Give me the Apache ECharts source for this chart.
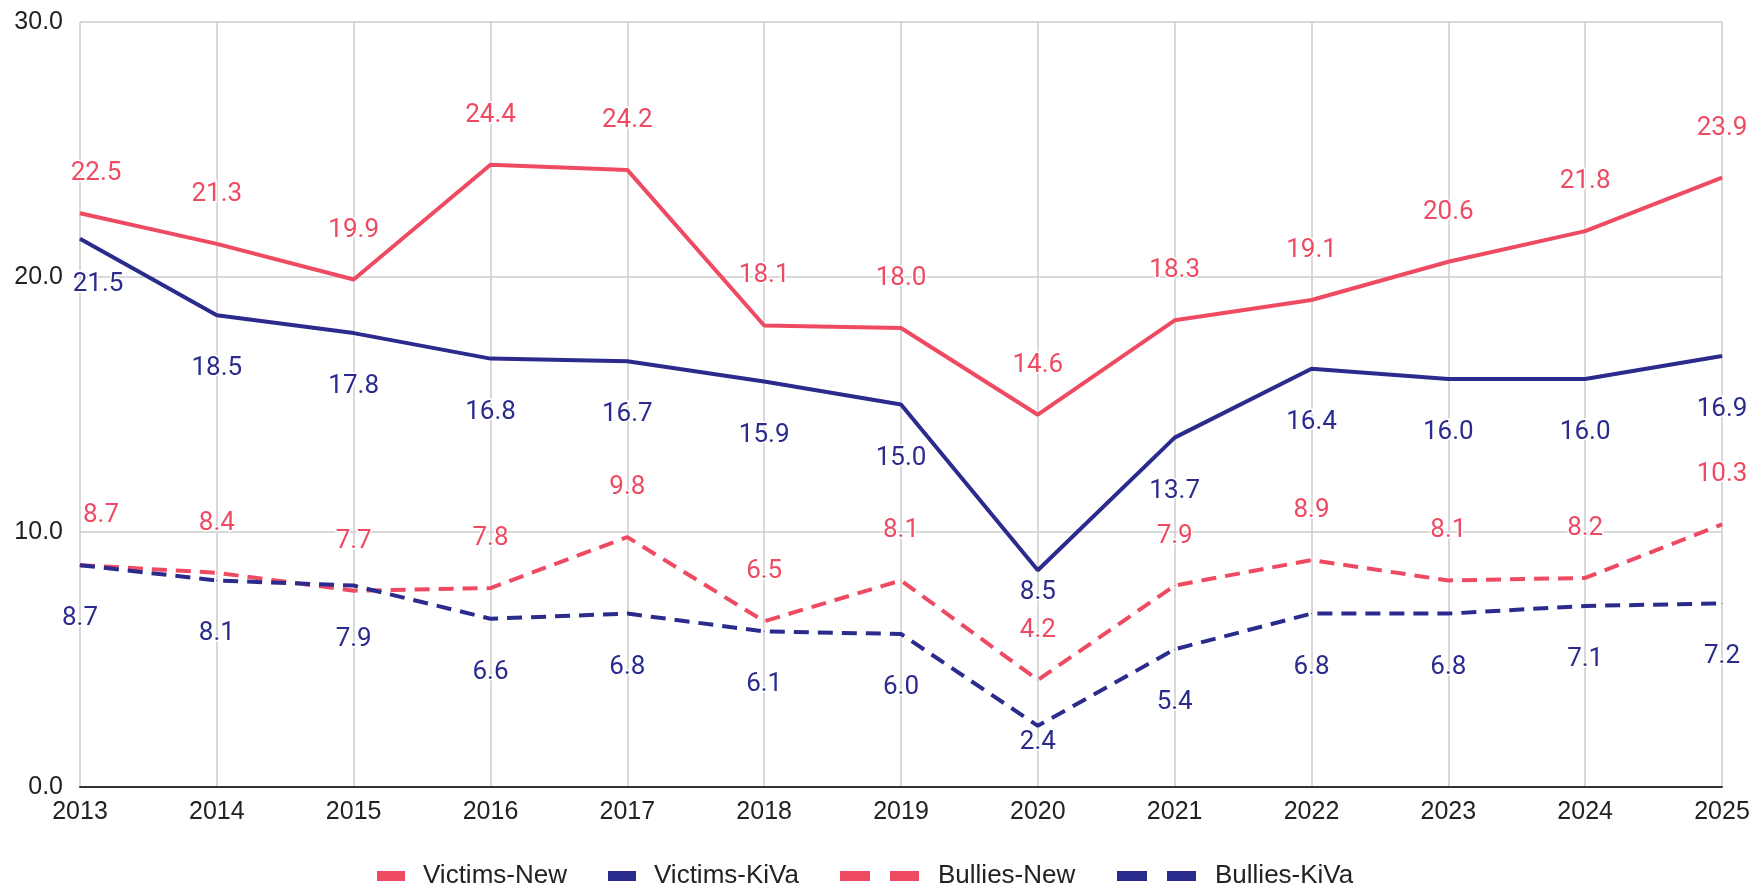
<!DOCTYPE html>
<html>
<head>
<meta charset="utf-8">
<script src="https://cdn.jsdelivr.net/npm/echarts@6/dist/echarts.min.js"></script>
<style>
  html, body { margin: 0; padding: 0; background: #fff; }
  #main { width: 1763px; height: 892px; }
</style>
</head>
<body>
<div id="main"></div>
<script>
// data
var years = ['2013', '2014', '2015', '2016', '2017', '2018', '2019', '2020', '2021', '2022', '2023', '2024', '2025'];
var victimsNew = [22.5, 21.3, 19.9, 24.4, 24.2, 18.1, 18.0, 14.6, 18.3, 19.1, 20.6, 21.8, 23.9];
var victimsKiva = [21.5, 18.5, 17.8, 16.8, 16.7, 15.9, 15.0, 8.5, 13.7, 16.4, 16.0, 16.0, 16.9];
var bulliesNew = [8.7, 8.4, 7.7, 7.8, 9.8, 6.5, 8.1, 4.2, 7.9, 8.9, 8.1, 8.2, 10.3];
var bulliesKiva = [8.7, 8.1, 7.9, 6.6, 6.8, 6.1, 6.0, 2.4, 5.4, 6.8, 6.8, 7.1, 7.2];

var RED = '#ee4b63';
var BLUE = '#2b2b8e';
var axisFont = '"Liberation Sans", Arial, sans-serif';

var myChart = echarts.init(document.getElementById('main'));

// a few labels sit differently in the reference (index -> label tweaks)
function withLabel(data, overrides) {
    return data.map(function (v, i) {
        if (!overrides[i]) return v;
        return { value: v, label: overrides[i] };
    });
}

function makeSeries(name, data, color, dashed, pos, dist) {
    return {
        name: name,
        type: 'line',
        data: data,
        symbol: 'circle',
        symbolSize: 1,
        showSymbol: true,
        itemStyle: { color: color },
        lineStyle: {
            color: color,
            width: 4,
            type: dashed ? [15, 9] : 'solid'
        },
        label: {
            show: true,
            position: pos,
            distance: dist,
            color: color,
            fontFamily: 'Roboto',
            fontSize: 26,
            textBorderColor: '#fff',
            textBorderWidth: 3,
            formatter: function (p) { return p.value.toFixed(1); }
        },
        emphasis: { disabled: true },
        animation: false
    };
}

function makeLegend(name, left, width, icon) {
    return {
        left: left,
        top: 863,
        padding: 0,
        itemWidth: width,
        itemHeight: 10,
        selectedMode: false,
        itemStyle: { borderWidth: 0 },
        textStyle: { fontFamily: axisFont, fontSize: 26, color: '#222' },
        data: [{ name: name, icon: icon }]
    };
}

var solidIcon = 'path://M0,0H28V10H0Z M41,5L41,5';
var dashIcon = 'path://M0,0H30V10H0Z M50,0H79V10H50Z M93,5L93,5';

var option = {
    backgroundColor: '#fff',
    grid: { left: 80, right: 41, top: 22, bottom: 105 },
    legend: [
        makeLegend('Victims-New', 377, 41, solidIcon),
        makeLegend('Victims-KiVa', 608, 41, solidIcon),
        makeLegend('Bullies-New', 840, 93, dashIcon),
        makeLegend('Bullies-KiVa', 1117, 93, dashIcon)
    ],
    xAxis: {
        type: 'category',
        data: years,
        boundaryGap: false,
        axisTick: { show: false },
        axisLine: { lineStyle: { color: '#333', width: 2 } },
        axisLabel: { fontFamily: axisFont, fontSize: 25, color: '#222', margin: 13 },
        splitLine: { show: true, lineStyle: { color: '#cccccc', width: 1.5 } }
    },
    yAxis: {
        type: 'value',
        min: 0,
        max: 30,
        interval: 10,
        axisLine: { show: false },
        axisTick: { show: false },
        axisLabel: {
            fontFamily: axisFont, fontSize: 25, color: '#222', margin: 17,
            formatter: function (v) { return v.toFixed(1); }
        },
        splitLine: { lineStyle: { color: '#cccccc', width: 1.5 } }
    },
    series: [
        makeSeries('Victims-New', withLabel(victimsNew, { 0: { distance: 26, offset: [16, 0] } }), RED, false, 'top', 36),
        makeSeries('Victims-KiVa', withLabel(victimsKiva, { 0: { distance: 32, offset: [18, 0] }, 7: { distance: 9 } }), BLUE, false, 'bottom', 40),
        makeSeries('Bullies-New', withLabel(bulliesNew, { 0: { offset: [21, 0] } }), RED, true, 'top', 36),
        makeSeries('Bullies-KiVa', withLabel(bulliesKiva, { 7: { distance: 3 } }), BLUE, true, 'bottom', 40)
    ]
};

option && myChart.setOption(option);
</script>
</body>
</html>
